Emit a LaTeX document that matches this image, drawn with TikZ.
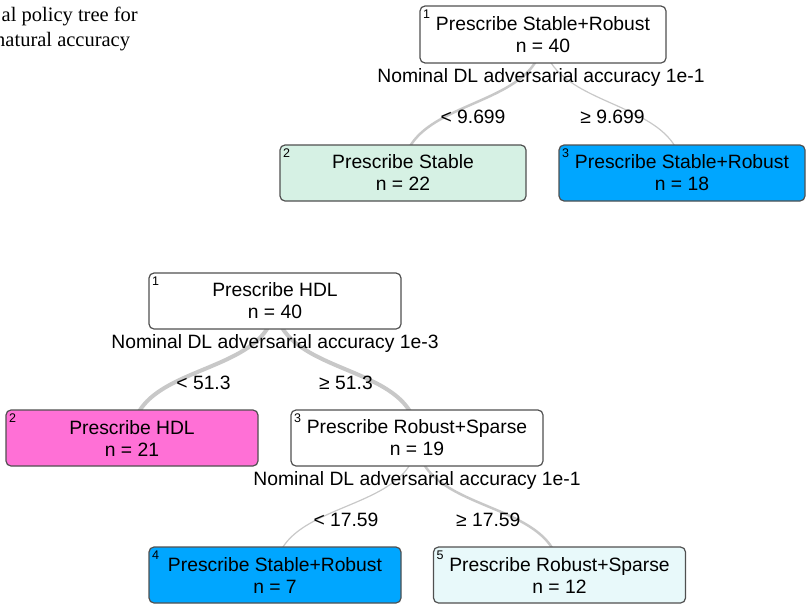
\documentclass[tikz,border=0pt]{standalone}
\usepackage{fontspec}
\setmainfont{Liberation Sans}
\newfontfamily\capfont{Liberation Serif}
\usetikzlibrary{backgrounds}
\definecolor{stablegreen}{RGB}{214,241,228}
\definecolor{robustblue}{RGB}{0,166,255}
\definecolor{hdlpink}{RGB}{255,112,214}
\definecolor{sparsecyan}{RGB}{232,249,250}
\definecolor{boxgray}{RGB}{80,80,80}
\definecolor{edgegray}{RGB}{200,200,200}

\begin{document}
\begin{tikzpicture}[x=1pt,y=-1pt,
  treebox/.style={draw=boxgray, line width=1.2pt, rounded corners=5pt, fill=white,
    minimum width=246pt, minimum height=57pt, inner sep=0pt, align=center,
    font=\fontsize{19.3}{22}\selectfont},
  widebox/.style={treebox, minimum width=252pt, minimum height=56pt},
  idx/.style={anchor=north west, inner sep=0pt, xshift=3.5pt, yshift=-4.5pt,
    font=\fontsize{12.5}{12.5}\selectfont},
  splitlab/.style={anchor=base, inner sep=0pt, font=\fontsize{19.3}{22}\selectfont},
  cutlab/.style={pos=0.5, yshift=-13pt, inner sep=0pt, font=\fontsize{19.3}{22}\selectfont},
  capline/.style={anchor=base west, inner sep=0pt, font=\capfont\fontsize{20.5}{25}\selectfont},
  branch/.style={draw=edgegray, line cap=round}]
  \useasboundingbox (0,0) rectangle (808,603);

  % caption, cut at the left edge
  \node[capline] (cap1) at (1.5,21) {al policy tree for};
  \node[capline] (cap2) at (-5,46) {natural accuracy};

  % tree for natural accuracy
  \node[treebox, label={[idx]north west:1}] (t1) at (543,34.5) {Prescribe Stable+Robust\\n = 40};
  \node[splitlab] (s1) at (541,82) {Nominal DL adversarial accuracy 1e-1};
  \node[treebox, minimum height=56pt, fill=stablegreen, label={[idx]north west:2}] (t2) at (403,173) {Prescribe Stable\\n = 22};
  \node[treebox, minimum height=56pt, fill=robustblue, label={[idx]north west:3}] (t3) at (682,173) {Prescribe Stable+Robust\\n = 18};

  % second tree
  \node[widebox, label={[idx]north west:1}] (h1) at (275,301) {Prescribe HDL\\n = 40};
  \node[splitlab] (s2) at (275,348) {Nominal DL adversarial accuracy 1e-3};
  \node[widebox, fill=hdlpink, label={[idx]north west:2}] (h2) at (132,438) {Prescribe HDL\\n = 21};
  \node[widebox, label={[idx]north west:3}] (h3) at (417,438) {Prescribe Robust+Sparse\\n = 19};
  \node[splitlab] (s3) at (417,485) {Nominal DL adversarial accuracy 1e-1};
  \node[widebox, fill=robustblue, label={[idx]north west:4}] (h4) at (275,575) {Prescribe Stable+Robust\\n = 7};
  \node[widebox, fill=sparsecyan, label={[idx]north west:5}] (h5) at (559.5,575) {Prescribe Robust+Sparse\\n = 12};

  \begin{pgfonlayer}{background}
    \draw[branch, line width=2.5pt] (t1.center) to[out=-90,in=90] node[cutlab] (c1) {< 9.699} (t2.center);
    \draw[branch, line width=1.2pt] (t1.center) to[out=-90,in=90] node[cutlab] (c2) {≥ 9.699} (t3.center);
    \draw[branch, line width=4pt] (h1.center) to[out=-90,in=90] node[cutlab] (c3) {< 51.3} (h2.center);
    \draw[branch, line width=4pt] (h1.center) to[out=-90,in=90] node[cutlab] (c4) {≥ 51.3} (h3.center);
    \draw[branch, line width=1.2pt] (h3.center) to[out=-90,in=90] node[cutlab] (c5) {< 17.59} (h4.center);
    \draw[branch, line width=2.5pt] (h3.center) to[out=-90,in=90] node[cutlab] (c6) {≥ 17.59} (h5.center);
  \end{pgfonlayer}
\end{tikzpicture}
\end{document}
